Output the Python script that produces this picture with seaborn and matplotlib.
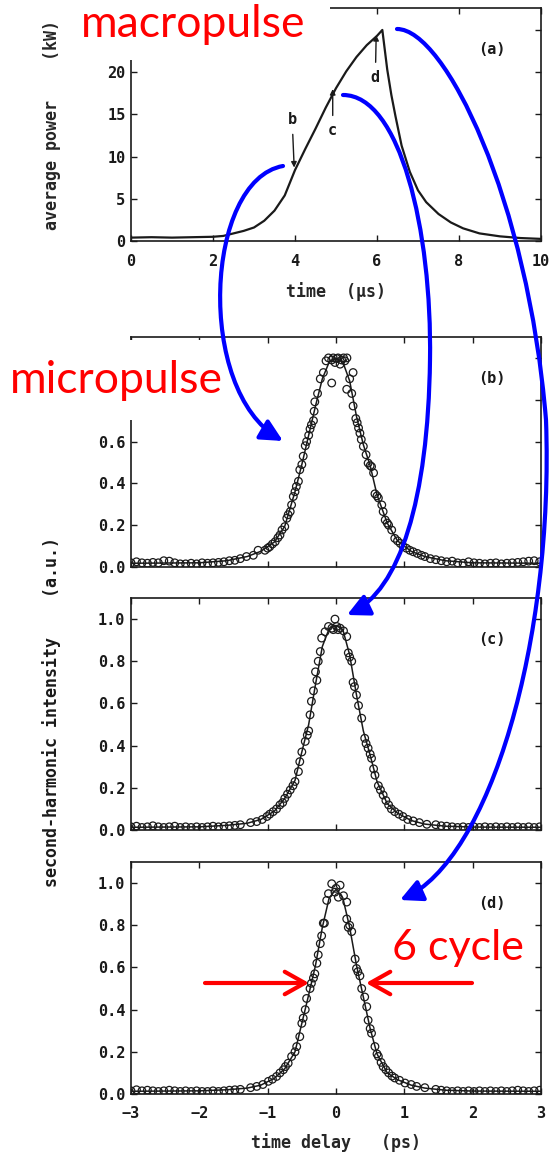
import numpy as np
import pandas as pd
import matplotlib
matplotlib.use("Agg")
import matplotlib.pyplot as plt
import seaborn as sns
from matplotlib.patches import FancyArrowPatch, Rectangle
from matplotlib.path import Path
from matplotlib.transforms import Affine2D

# ---------------- data ----------------
# (a) macropulse: average power (kW) vs time (us)
a_time = [0.0, 0.5, 1.0, 1.5, 2.0, 2.25, 2.5, 2.75, 3.0, 3.25, 3.5, 3.75, 4.0, 4.25,
          4.5, 4.75, 5.0, 5.25, 5.5, 5.75, 6.0, 6.13, 6.25, 6.35, 6.45, 6.6, 6.8, 7.0,
          7.2, 7.5, 7.8, 8.1, 8.5, 9.0, 9.5, 10.0]
a_power = [0.4, 0.45, 0.4, 0.45, 0.5, 0.6, 0.9, 1.2, 1.6, 2.4, 3.6, 5.4, 8.4, 10.9,
           13.3, 15.8, 18.1, 20.1, 21.8, 23.2, 24.3, 25.0, 20.3, 17.3, 14.8, 11.3, 8.2, 6.0,
           4.6, 3.2, 2.2, 1.5, 0.9, 0.55, 0.35, 0.25]
mark_labels = ["b", "c", "d"]
mark_time = [3.98, 4.92, 5.98]
mark_tip = [8.7, 18.0, 24.4]
mark_text_time = [3.93, 4.92, 5.96]
mark_text_power = [14.4, 13.1, 19.4]

# (b)-(d) micropulse autocorrelation: second-harmonic intensity vs delay (ps)
fit_x = [-3.0, -2.0, -1.6, -1.3, -1.1, -0.9, -0.75, -0.6, -0.5, -0.4, -0.3, -0.2, -0.1, 0.0,
         0.1, 0.2, 0.3, 0.4, 0.5, 0.6, 0.75, 0.9, 1.1, 1.3, 1.6, 2.0, 3.0]
b_fit = [0.018, 0.02, 0.03, 0.05, 0.075, 0.12, 0.195, 0.36, 0.49, 0.63, 0.77, 0.9, 0.98, 1.0,
         0.98, 0.89, 0.72, 0.585, 0.485, 0.345, 0.21, 0.125, 0.075, 0.05, 0.03, 0.02, 0.018]
c_fit = [0.013, 0.015, 0.022, 0.032, 0.05, 0.09, 0.15, 0.235, 0.37, 0.5, 0.69, 0.87, 0.955, 0.97,
         0.95, 0.83, 0.64, 0.47, 0.355, 0.23, 0.125, 0.08, 0.045, 0.028, 0.018, 0.014, 0.013]
d_fit = [0.013, 0.015, 0.02, 0.028, 0.042, 0.075, 0.12, 0.2, 0.335, 0.47, 0.61, 0.79, 0.93, 0.97,
         0.93, 0.79, 0.61, 0.46, 0.31, 0.19, 0.1, 0.068, 0.042, 0.028, 0.018, 0.014, 0.013]

base_x = [-3.0, -2.92, -2.84, -2.76, -2.68, -2.6, -2.52, -2.44, -2.36, -2.28, -2.2, -2.12,
          -2.04, -1.96, -1.88, -1.8, -1.72, -1.64, -1.56, -1.48, -1.4,
          1.46, 1.54, 1.62, 1.7, 1.78, 1.86, 1.94, 2.02, 2.1, 2.18, 2.26, 2.34, 2.42, 2.5,
          2.58, 2.66, 2.74, 2.82, 2.9, 2.98]
b_base_y = [0.02, 0.025, 0.02, 0.018, 0.022, 0.02, 0.03, 0.028, 0.02, 0.015, 0.015, 0.018,
            0.015, 0.02, 0.018, 0.02, 0.022, 0.025, 0.03, 0.032, 0.04,
            0.035, 0.03, 0.025, 0.028, 0.02, 0.018, 0.025, 0.02, 0.018, 0.015, 0.018, 0.02,
            0.015, 0.018, 0.02, 0.022, 0.025, 0.028, 0.03, 0.025]
c_base_y = [0.015, 0.018, 0.012, 0.015, 0.02, 0.015, 0.012, 0.015, 0.018, 0.012, 0.015, 0.012,
            0.015, 0.012, 0.015, 0.018, 0.015, 0.018, 0.02, 0.022, 0.025,
            0.025, 0.02, 0.018, 0.015, 0.012, 0.015, 0.012, 0.015, 0.012, 0.015, 0.012, 0.015,
            0.012, 0.015, 0.012, 0.015, 0.012, 0.015, 0.012, 0.015]
d_base_y = [0.015, 0.02, 0.015, 0.018, 0.015, 0.012, 0.015, 0.018, 0.015, 0.012, 0.015, 0.012,
            0.015, 0.012, 0.012, 0.015, 0.012, 0.015, 0.018, 0.02, 0.022,
            0.022, 0.018, 0.015, 0.012, 0.015, 0.012, 0.015, 0.012, 0.015, 0.012, 0.015, 0.012,
            0.015, 0.012, 0.015, 0.018, 0.015, 0.012, 0.015, 0.018]

b_x = [-0.146, -0.11, -0.063, -0.04, -0.015, 0.01, 0.03, 0.06, 0.083, 0.11, 0.13, 0.16,
       -0.063, 0.157, 0.25,
       -0.185, -0.23, -0.27, -0.31, -0.32, -0.33, -0.36, -0.38, -0.40, -0.43, -0.45, -0.48,
       -0.50, -0.53, -0.55, -0.58, -0.60, -0.625, -0.65, -0.67, -0.70, -0.72, -0.75, -0.79,
       -0.82, -0.85, -0.89, -0.93, -0.97, -1.0, -1.04, -1.14, -1.21, -1.31,
       0.20, 0.23, 0.25, 0.29, 0.31, 0.33, 0.35, 0.37, 0.40, 0.44, 0.47, 0.50, 0.52, 0.55,
       0.57, 0.60, 0.62, 0.67, 0.69, 0.72, 0.75, 0.77, 0.815, 0.86, 0.90, 0.94, 0.98, 1.03,
       1.08, 1.13, 1.19, 1.25, 1.30, 1.38]
b_y = [0.986, 1.0, 0.99, 1.0, 0.978, 0.997, 1.0, 0.97, 0.99, 1.0, 0.986, 1.0,
       0.88, 0.85, 0.93,
       0.93, 0.9, 0.83, 0.79, 0.745, 0.70, 0.68, 0.66, 0.63, 0.60, 0.58, 0.53,
       0.49, 0.465, 0.41, 0.385, 0.36, 0.337, 0.297, 0.265, 0.25, 0.233, 0.193, 0.177,
       0.153, 0.14, 0.121, 0.11, 0.097, 0.09, 0.08, 0.08, 0.056, 0.05,
       0.90, 0.83, 0.77, 0.71, 0.69, 0.665, 0.64, 0.61, 0.577, 0.537, 0.497, 0.485, 0.48, 0.45,
       0.35, 0.34, 0.33, 0.297, 0.265, 0.225, 0.21, 0.20, 0.177, 0.137, 0.125, 0.113, 0.10, 0.09,
       0.08, 0.073, 0.065, 0.056, 0.05, 0.04]

c_x = [-0.015, -0.11, -0.06, 0.01, 0.06, 0.11, 0.157, -0.16, -0.21, -0.04, 0.03,
       -0.23, -0.26, -0.28, -0.30, -0.33, -0.36, -0.38, -0.40, -0.42, -0.45, -0.50, -0.53,
       -0.55, -0.60, -0.63, -0.67, -0.71, -0.75, -0.78, -0.82, -0.87, -0.92, -0.97, -1.01,
       -1.08, -1.16, -1.25,
       0.18, 0.20, 0.23, 0.25, 0.27, 0.30, 0.33, 0.376, 0.42, 0.44, 0.47, 0.50, 0.52, 0.55,
       0.57, 0.62, 0.65, 0.69, 0.73, 0.77, 0.81, 0.86, 0.92, 0.98, 1.05, 1.13, 1.22, 1.33]
c_y = [1.0, 0.965, 0.957, 0.965, 0.957, 0.944, 0.917, 0.94, 0.91, 0.95, 0.95,
       0.846, 0.80, 0.71, 0.75, 0.66, 0.61, 0.546, 0.47, 0.45, 0.42, 0.37, 0.324,
       0.277, 0.23, 0.21, 0.19, 0.17, 0.15, 0.13, 0.119, 0.10, 0.087, 0.075, 0.064,
       0.05, 0.04, 0.035,
       0.84, 0.82, 0.80, 0.70, 0.68, 0.64, 0.59, 0.53, 0.435, 0.41, 0.388, 0.36, 0.34, 0.29,
       0.26, 0.21, 0.19, 0.166, 0.14, 0.119, 0.10, 0.087, 0.075, 0.064, 0.05, 0.043, 0.035, 0.027]

d_x = [-0.063, 0.06, -0.11, -0.015, 0.034, 0.11, 0.157, -0.136, 0.0,
       -0.17, -0.186, -0.21, -0.23, -0.26, -0.28, -0.31, -0.33, -0.36, -0.38, -0.43, -0.45,
       -0.48, -0.50, -0.53, -0.575, -0.60, -0.65, -0.70, -0.74, -0.77, -0.82, -0.87, -0.93,
       -0.99, -1.07, -1.16, -1.25,
       0.157, 0.18, 0.20, 0.23, 0.28, 0.30, 0.32, 0.35, 0.376, 0.42, 0.45, 0.47, 0.50, 0.52,
       0.57, 0.60, 0.62, 0.66, 0.69, 0.73, 0.77, 0.82, 0.86, 0.93, 1.01, 1.10, 1.18, 1.30]
d_y = [0.997, 0.99, 0.95, 0.957, 0.933, 0.94, 0.91, 0.918, 0.975,
       0.81, 0.81, 0.75, 0.713, 0.66, 0.62, 0.57, 0.55, 0.525, 0.50, 0.453, 0.40,
       0.36, 0.335, 0.272, 0.225, 0.20, 0.178, 0.146, 0.13, 0.115, 0.10, 0.083, 0.07,
       0.06, 0.045, 0.036, 0.03,
       0.83, 0.79, 0.80, 0.77, 0.64, 0.595, 0.58, 0.56, 0.50, 0.46, 0.414, 0.35, 0.31, 0.288,
       0.225, 0.19, 0.178, 0.15, 0.13, 0.115, 0.10, 0.085, 0.076, 0.065, 0.052, 0.045, 0.036, 0.03]

panel_tags = ["(a)", "(b)", "(c)", "(d)"]
delay_ticks = [-3, -2, -1, 0, 1, 2, 3]
delay_ticklabels = ["\u22123", "\u22122", "\u22121", "0", "1", "2", "3"]
time_ticks = [0, 2, 4, 6, 8, 10]
power_ticks = [0, 5, 10, 15, 20, 25]
power_ticklabels = ["0", "5", "10", "15", "20", ""]      # "25" hidden under the slide text box
shg_ticks = [0.0, 0.2, 0.4, 0.6, 0.8, 1.0]
shg_ticklabels = ["0.0", "0.2", "0.4", "0.6", "0.8", "1.0"]
shg_ticklabels_b = ["0.0", "0.2", "0.4", "0.6", "", ""]  # hidden under "micropulse" box

# ---------------- style ----------------
sns.set_theme(style="ticks")
plt.rcParams.update({
    "axes.linewidth": 1.2,
    "axes.edgecolor": "#1a1a1a",
    "xtick.direction": "in",
    "ytick.direction": "in",
    "xtick.top": True,
    "ytick.right": True,
    "xtick.major.size": 4.5,
    "ytick.major.size": 4.5,
    "xtick.major.width": 1.0,
    "ytick.major.width": 1.0,
    "xtick.major.pad": 9,
    "ytick.major.pad": 4,
    "xtick.labelsize": 11,
    "ytick.labelsize": 11,
    "xtick.color": "#1a1a1a",
    "ytick.color": "#1a1a1a",
    "font.weight": "bold",
})
plt.rcParams["font.family"] = ["DejaVu Sans Mono", "DejaVu Sans"]

W, H = 551, 1152
fig = plt.figure(figsize=(W / 100, H / 100), dpi=100)
fig.patch.set_facecolor("white")
PX = Affine2D().scale(1.0 / W, -1.0 / H).translate(0, 1) + fig.transFigure


def axes_px(x0, y0, x1, y1):
    return fig.add_axes([x0 / W, 1 - y1 / H, (x1 - x0) / W, (y1 - y0) / H])


ink = "#1a1a1a"

# ---------- (a) ----------
ax_a = axes_px(131, 8, 541, 241)
sns.lineplot(x=a_time, y=a_power, ax=ax_a, color=ink, lw=1.6)
ax_a.set_xlim(0, 10)
ax_a.set_ylim(0, 27.6)
ax_a.set_xticks(time_ticks)
ax_a.set_yticks(power_ticks)
ax_a.set_yticklabels(power_ticklabels)
ax_a.set_xlabel("time  (\u03bcs)", fontsize=12, fontweight="bold", labelpad=10)
ax_a.set_ylabel("average power    (kW)", fontsize=12, fontweight="bold")
ax_a.yaxis.set_label_coords(-0.170, 0.5)
for lab, t, tip, tt, tp in zip(mark_labels, mark_time, mark_tip, mark_text_time, mark_text_power):
    ax_a.annotate(lab, xy=(t, tip), xytext=(tt, tp), ha="center", va="center",
                  fontsize=11, fontweight="bold", color=ink,
                  arrowprops=dict(arrowstyle="-|>", color=ink, lw=1.0,
                                  mutation_scale=8, shrinkA=3, shrinkB=0))
ax_a.text(0.88, 0.82, panel_tags[0], transform=ax_a.transAxes, ha="center", va="center",
          fontsize=11, fontweight="bold", color=ink)

# ---------- (b)-(d) ----------
panel_px = [(131, 337, 541, 567), (131, 598, 541, 830), (131, 862, 541, 1094)]
fits = [b_fit, c_fit, d_fit]
scat_x = [b_x, c_x, d_x]
scat_y = [b_y, c_y, d_y]
bases = [b_base_y, c_base_y, d_base_y]
ylabels_sets = [shg_ticklabels_b, shg_ticklabels, shg_ticklabels]
for i in range(3):
    ax = axes_px(*panel_px[i])
    sns.lineplot(x=fit_x, y=fits[i], ax=ax, color=ink, lw=1.1, zorder=2)
    sns.scatterplot(x=base_x + scat_x[i], y=bases[i] + scat_y[i], ax=ax, marker="o", s=30,
                    facecolors="none", edgecolor=ink, linewidth=0.9, zorder=3)
    ax.set_xlim(-3, 3)
    ax.set_ylim(0, 1.1)
    ax.set_xticks(delay_ticks)
    ax.set_yticks(shg_ticks)
    ax.set_yticklabels(ylabels_sets[i])
    if i < 2:
        ax.set_xticklabels([])
    else:
        ax.set_xticklabels(delay_ticklabels)
        ax.set_xlabel("time delay   (ps)", fontsize=12, fontweight="bold", labelpad=8)
    ax.set_ylabel("")
    ax.text(0.88, 0.82, panel_tags[i + 1], transform=ax.transAxes, ha="center", va="center",
            fontsize=11, fontweight="bold", color=ink)

fig.text(52 / W, 1 - 712 / H, "second-harmonic intensity    (a.u.)", rotation=90,
         ha="center", va="center", fontsize=12, fontweight="bold", color=ink)

# ---------- overlay annotations (slide layer) ----------
red = "#ff0000"
blue = "#0000ff"
fig.add_artist(Rectangle((70, 0), 260, 60, transform=PX, facecolor="white",
                         edgecolor="none", zorder=5))
fig.add_artist(Rectangle((0, 340), 228, 80, transform=PX, facecolor="white",
                         edgecolor="none", zorder=5))
txt_kw = dict(transform=PX, color=red, fontweight="normal",
              family=["Lato", "DejaVu Sans"], ha="left", va="baseline", zorder=6)
fig.text(81, 37, "macropulse", fontsize=32, **txt_kw)
fig.text(10, 393, "micropulse", fontsize=32, **txt_kw)
fig.text(392, 960, "6 cycle", fontsize=31, **txt_kw)

curves = [
    [(283, 166), (205, 180), (195, 390), (283, 441)],
    [(343, 95), (400, 95), (432, 230), (430, 360), (428, 500), (400, 590), (347, 615)],
    [(397, 29), (445, 29), (528, 200), (546, 420), (554, 640), (490, 860), (400, 900)],
]
for pts in curves:
    codes = [Path.MOVETO] + [Path.CURVE4] * (len(pts) - 1)
    arr = FancyArrowPatch(path=Path(pts, codes), transform=PX,
                          arrowstyle="-|>,head_length=1.1,head_width=0.55",
                          mutation_scale=12, lw=3.0, color=blue, zorder=7)
    fig.add_artist(arr)

for (x0, x1) in [(205, 309), (472, 366)]:
    arr = FancyArrowPatch((x0, 983), (x1, 983), transform=PX,
                          arrowstyle="->,head_length=0.8,head_width=0.45",
                          mutation_scale=18, lw=3.0, color=red, zorder=7,
                          shrinkA=0, shrinkB=0)
    fig.add_artist(arr)

fig.savefig("out.png", dpi=100, facecolor="white")
